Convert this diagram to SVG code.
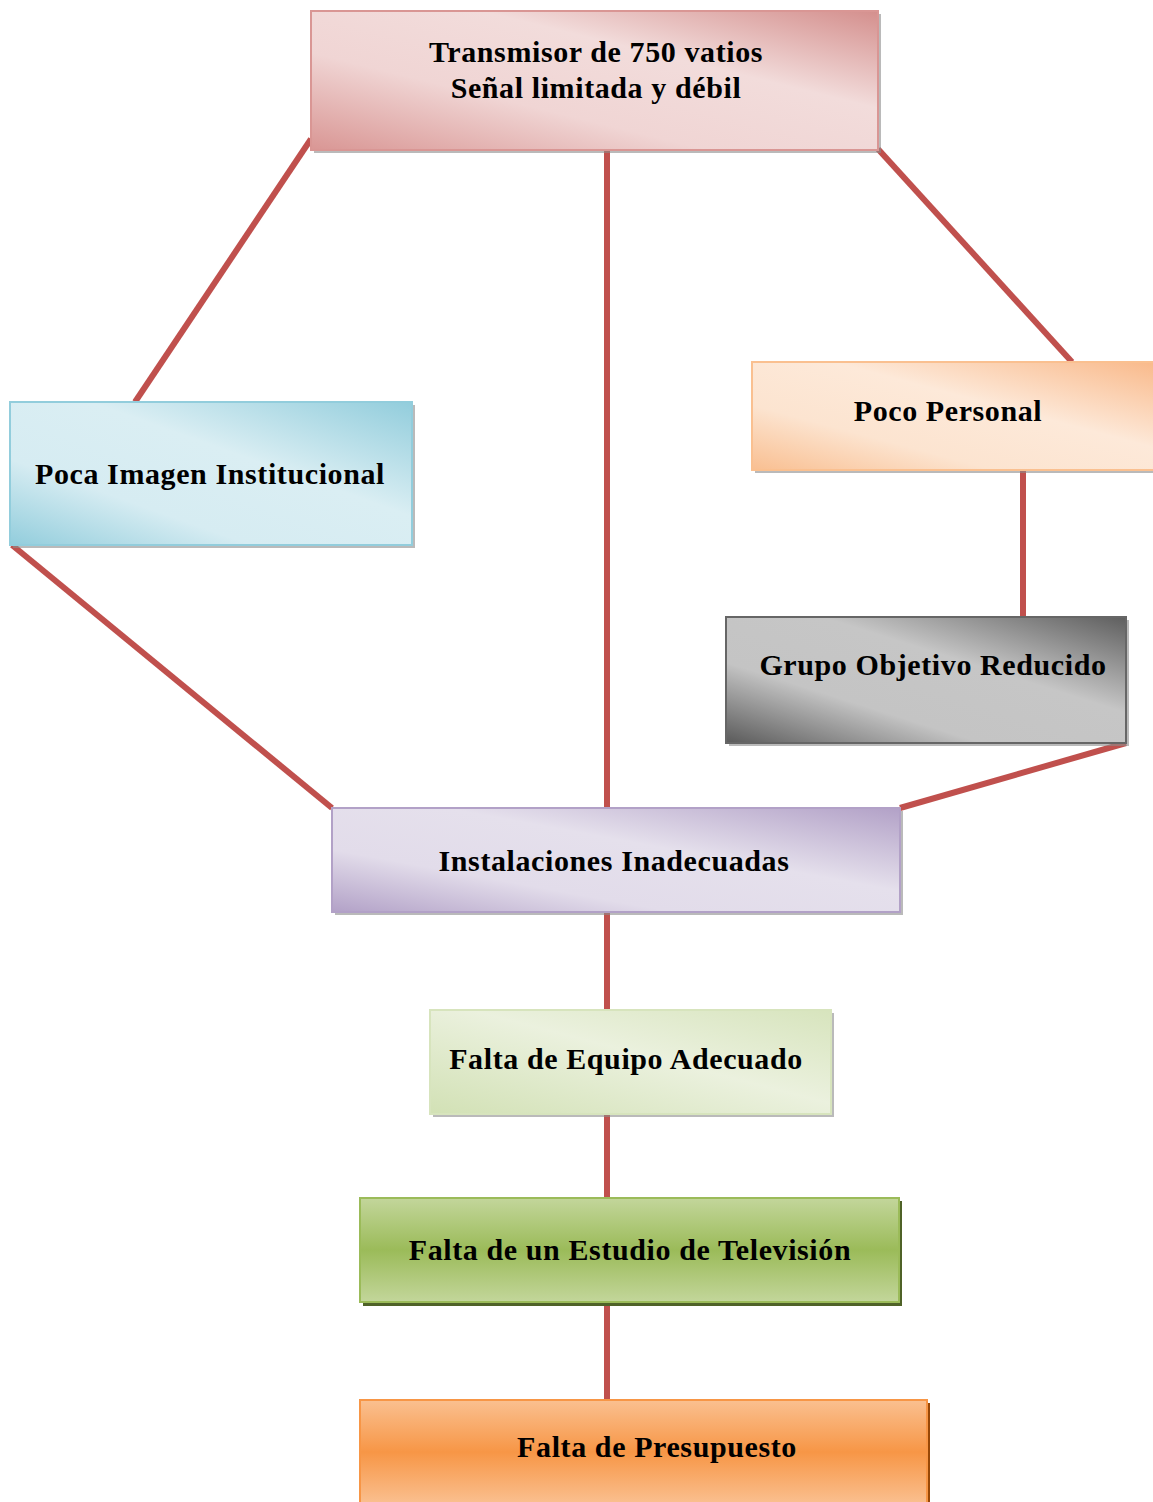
<svg xmlns="http://www.w3.org/2000/svg" width="1153" height="1502" viewBox="0 0 1153 1502">
<style>
text{font-family:"Liberation Serif","Times New Roman",serif;font-weight:bold;font-size:30px;letter-spacing:0.6px;fill:#000;text-anchor:middle}
.conn line{stroke:#C0504D;stroke-width:6;stroke-linecap:butt}
.sh{fill:#8c8c8c;opacity:0.6}
</style>
<defs>
<linearGradient id="gPink" x1="1" y1="0" x2="0" y2="1">
<stop offset="0" stop-color="#D48F8D"/><stop offset="0.35" stop-color="#F2DCDB"/><stop offset="0.65" stop-color="#F0D5D4"/><stop offset="1" stop-color="#D99694"/>
</linearGradient>
<linearGradient id="gBlue" x1="1" y1="0" x2="0" y2="1">
<stop offset="0" stop-color="#92CDDC"/><stop offset="0.4" stop-color="#DAEEF3"/><stop offset="0.7" stop-color="#D6ECF2"/><stop offset="1" stop-color="#92CDDC"/>
</linearGradient>
<linearGradient id="gOrL" x1="1" y1="0" x2="0" y2="1">
<stop offset="0" stop-color="#F9B98A"/><stop offset="0.4" stop-color="#FDE9D9"/><stop offset="0.7" stop-color="#FCE4D0"/><stop offset="1" stop-color="#F9BF91"/>
</linearGradient>
<linearGradient id="gGray" x1="1" y1="0" x2="0" y2="1">
<stop offset="0" stop-color="#5E5E5E"/><stop offset="0.38" stop-color="#C6C6C6"/><stop offset="0.68" stop-color="#C4C4C4"/><stop offset="1" stop-color="#5A5A5A"/>
</linearGradient>
<linearGradient id="gPur" x1="1" y1="0" x2="0" y2="1">
<stop offset="0" stop-color="#B2A1C7"/><stop offset="0.4" stop-color="#E5E0EC"/><stop offset="0.7" stop-color="#E2DCEA"/><stop offset="1" stop-color="#B2A1C7"/>
</linearGradient>
<linearGradient id="gGrL" x1="1" y1="0" x2="0" y2="1">
<stop offset="0" stop-color="#D7E4BD"/><stop offset="0.45" stop-color="#EBF1DE"/><stop offset="1" stop-color="#D2E1B5"/>
</linearGradient>
<linearGradient id="gGr" x1="0" y1="0" x2="0" y2="1">
<stop offset="0" stop-color="#C3D69B"/><stop offset="0.5" stop-color="#9BBB59"/><stop offset="1" stop-color="#C3D69B"/>
</linearGradient>
<linearGradient id="gOr" x1="0" y1="0" x2="0" y2="1">
<stop offset="0" stop-color="#FAC090"/><stop offset="0.5" stop-color="#F79646"/><stop offset="1" stop-color="#FAC090"/>
</linearGradient>
</defs>
<g class="conn" id="connectors">
<line x1="311" y1="139" x2="135" y2="402"/>
<line x1="607" y1="150" x2="607" y2="808"/>
<line x1="878" y1="149" x2="1072" y2="362"/>
<line x1="1023" y1="470" x2="1023" y2="617"/>
<line x1="12" y1="545" x2="332" y2="808"/>
<line x1="1126" y1="743" x2="900" y2="808"/>
<line x1="607" y1="912" x2="607" y2="1010"/>
<line x1="607" y1="1114" x2="607" y2="1198"/>
<line x1="607" y1="1302" x2="607" y2="1400"/>
</g>
<g id="n-transmisor">
<rect class="sh" x="314" y="14" width="567" height="139"/>
<rect x="311" y="11" width="567" height="139" fill="url(#gPink)" stroke="#D99694" stroke-width="2"/>
<text x="596" y="62">Transmisor de 750 vatios</text>
<text x="596" y="98">Señal limitada y débil</text>
</g>
<g id="n-imagen">
<rect class="sh" x="13" y="405" width="402" height="143"/>
<rect x="10" y="402" width="402" height="143" fill="url(#gBlue)" stroke="#92CDDC" stroke-width="2"/>
<text x="210" y="484">Poca Imagen Institucional</text>
</g>
<g id="n-personal">
<rect class="sh" x="755" y="365" width="401" height="108"/>
<rect x="752" y="362" width="405" height="108" fill="url(#gOrL)" stroke="#FAC090" stroke-width="2"/>
<text x="948" y="421">Poco Personal</text>
</g>
<g id="n-grupo">
<rect class="sh" x="729" y="620" width="400" height="126"/>
<rect x="726" y="617" width="400" height="126" fill="url(#gGray)" stroke="#666" stroke-width="2"/>
<text x="933" y="675">Grupo Objetivo Reducido</text>
</g>
<g id="n-instalaciones">
<rect class="sh" x="335" y="811" width="568" height="104"/>
<rect x="332" y="808" width="568" height="104" fill="url(#gPur)" stroke="#B2A1C7" stroke-width="2"/>
<text x="614" y="871">Instalaciones Inadecuadas</text>
</g>
<g id="n-equipo">
<rect class="sh" x="433" y="1013" width="401" height="104"/>
<rect x="430" y="1010" width="401" height="104" fill="url(#gGrL)" stroke="#D7E4BD" stroke-width="2"/>
<text x="626" y="1069">Falta de Equipo Adecuado</text>
</g>
<g id="n-estudio">
<rect x="363" y="1201" width="539" height="105" fill="#4F6228"/>
<rect x="360" y="1198" width="539" height="104" fill="url(#gGr)" stroke="#9BBB59" stroke-width="2"/>
<text x="630" y="1260">Falta de un Estudio de Televisión</text>
</g>
<g id="n-presupuesto">
<rect x="363" y="1403" width="567" height="104" fill="#984807"/>
<rect x="360" y="1400" width="567" height="104" fill="url(#gOr)" stroke="#F79646" stroke-width="2"/>
<text x="657" y="1457">Falta de Presupuesto</text>
</g>
</svg>
